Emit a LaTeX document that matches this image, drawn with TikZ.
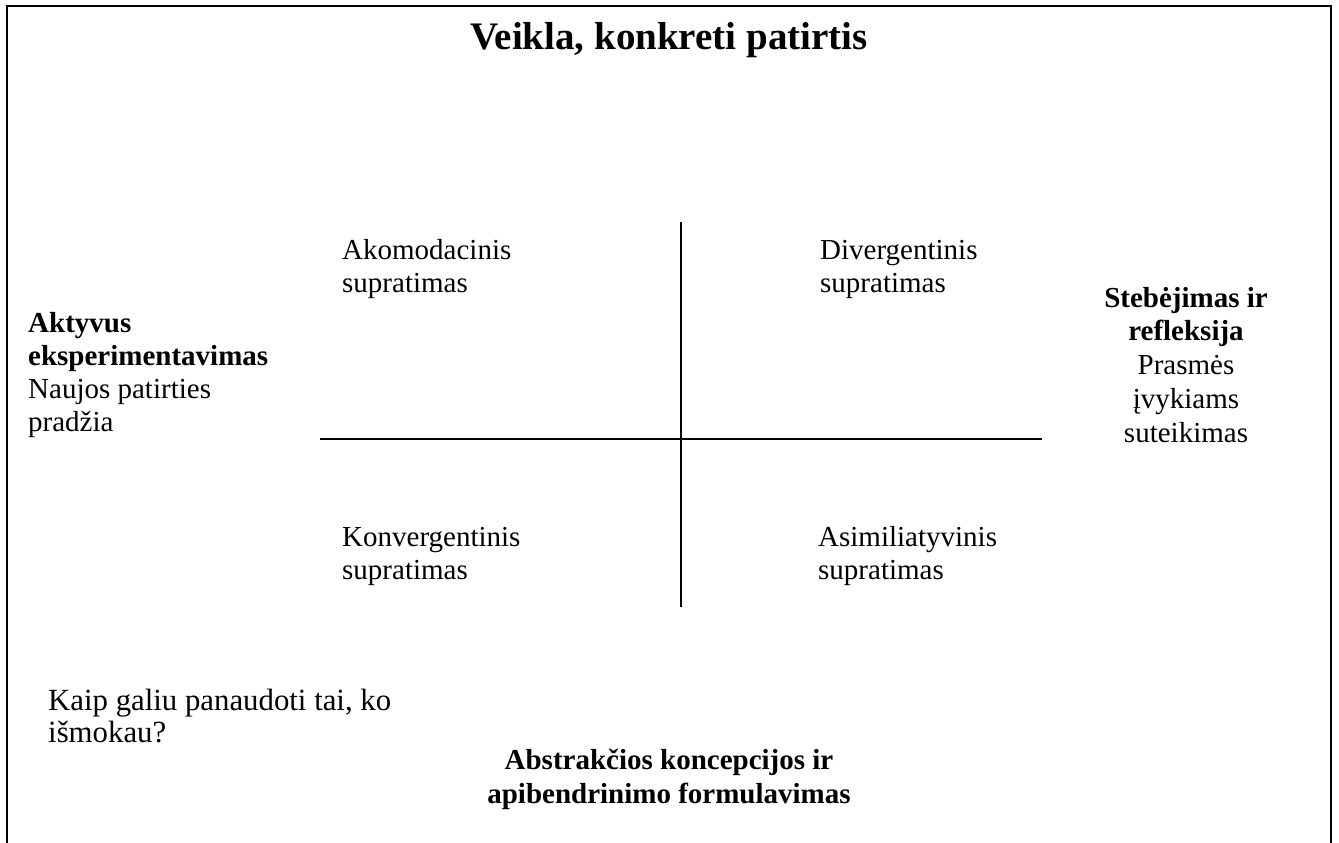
\documentclass[tikz,border=0pt]{standalone}
\usepackage{fontspec}
\setmainfont{Liberation Serif}
\begin{document}
\begin{tikzpicture}[x=1pt,y=-1pt,
  txt/.style={inner sep=0pt,font=\fontsize{29}{33}\selectfont},
  frame/.style={line width=1.6pt,black},
  axis/.style={line width=1.4pt,black}]
\useasboundingbox (0,0) rectangle (1339,843);
% frame (open at bottom)
\coordinate (fbl) at (7,843);
\coordinate (ftl) at (7,6);
\coordinate (ftr) at (1331,6);
\coordinate (fbr) at (1331,843);
\draw[frame] (fbl) -- (ftl) -- (ftr) -- (fbr);
% axes
\coordinate (hl) at (320,439);
\coordinate (hr) at (1042,439);
\coordinate (vt) at (681,222);
\coordinate (vb) at (681,607);
\draw[axis] (hl) -- (hr);
\draw[axis] (vt) -- (vb);
% texts (base anchor = baseline of the last line)
\node[txt,anchor=base,font=\fontsize{39}{44}\selectfont] (title) at (669,50) {\bfseries Veikla, konkreti patirtis};
\node[txt,anchor=base west,align=left] (akom) at (342,292) {Akomodacinis\\supratimas};
\node[txt,anchor=base west,align=left] (div) at (820,292) {Divergentinis\\supratimas};
\node[txt,anchor=base west,align=left] (konv) at (342,579) {Konvergentinis\\supratimas};
\node[txt,anchor=base west,align=left] (asim) at (818,579) {Asimiliatyvinis\\supratimas};
\node[txt,anchor=base west,align=left] (akt) at (28,431) {\textbf{Aktyvus}\\\textbf{eksperimentavimas}\\Naujos patirties\\pradžia};
\node[txt,anchor=base,align=center,font=\fontsize{29}{33.75}\selectfont] (steb) at (1186,442) {\textbf{Stebėjimas ir}\\\textbf{refleksija}\\Prasmės\\įvykiams\\suteikimas};
\node[txt,anchor=base west,align=left,font=\fontsize{30.8}{32}\selectfont] (kaip) at (48,742) {Kaip galiu panaudoti tai, ko\\išmokau?};
\node[txt,anchor=base,align=center,font=\fontsize{29}{34}\selectfont] (abs) at (669,803) {\textbf{Abstrakčios koncepcijos ir}\\\textbf{apibendrinimo formulavimas}};
\end{tikzpicture}
\end{document}
